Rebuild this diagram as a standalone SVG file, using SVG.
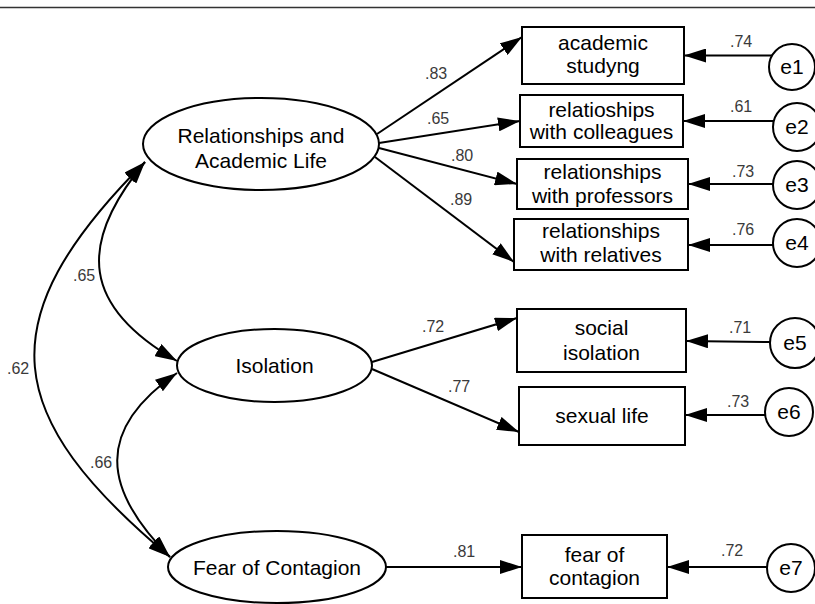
<svg xmlns="http://www.w3.org/2000/svg" width="815" height="604" viewBox="0 0 815 604">
<style>
.n{fill:#fff;stroke:#000;stroke-width:2}
.t{font-family:"Liberation Sans",Arial,sans-serif;font-size:21px;fill:#000;text-anchor:middle}
.c{fill:none;stroke:#000;stroke-width:2}
.l{font-family:"Liberation Sans",Arial,sans-serif;font-size:16px;fill:#3a3a3a}
</style>
<defs>
<marker id="ah" markerUnits="userSpaceOnUse" markerWidth="22" markerHeight="14" viewBox="0 0 22 14" refX="22" refY="7" orient="auto-start-reverse">
<path d="M0,0 L22,7 L0,14 z" fill="#000"/>
</marker>
</defs>
<rect width="815" height="604" fill="#fff"/>
<line x1="0" y1="7.5" x2="815" y2="7.5" stroke="#333" stroke-width="1.5"/>

<g id="connectors">
<path class="c" d="M377,134 L522,37" marker-end="url(#ah)"/>
<path class="c" d="M379,143 L520,121" marker-end="url(#ah)"/>
<path class="c" d="M379,148 L517,184" marker-end="url(#ah)"/>
<path class="c" d="M375,157 L514,262" marker-end="url(#ah)"/>
<path class="c" d="M372,362 L517,318" marker-end="url(#ah)"/>
<path class="c" d="M372,369 L519,432" marker-end="url(#ah)"/>
<path class="c" d="M386,567 L522,567" marker-end="url(#ah)"/>
<path class="c" d="M772,55.5 L684,55.5" marker-end="url(#ah)"/>
<path class="c" d="M774,121 L683,121" marker-end="url(#ah)"/>
<path class="c" d="M773,184 L688,184" marker-end="url(#ah)"/>
<path class="c" d="M773,245 L688,245" marker-end="url(#ah)"/>
<path class="c" d="M770,342 L686,341" marker-end="url(#ah)"/>
<path class="c" d="M765,415 L685,415" marker-end="url(#ah)"/>
<path class="c" d="M767,567 L667,567" marker-end="url(#ah)"/>
<path class="c" d="M145,162 C76,245 83,307 177,361" marker-start="url(#ah)" marker-end="url(#ah)"/>
<path class="c" d="M145,162 C-15,322 3,417 170,557" marker-start="url(#ah)" marker-end="url(#ah)"/>
<path class="c" d="M177,373 C96,429 101,488 170,557" marker-start="url(#ah)" marker-end="url(#ah)"/>
<text class="l" x="425" y="79">.83</text>
<text class="l" x="427" y="124">.65</text>
<text class="l" x="451" y="161">.80</text>
<text class="l" x="450" y="205">.89</text>
<text class="l" x="422" y="332">.72</text>
<text class="l" x="448" y="392">.77</text>
<text class="l" x="453" y="557">.81</text>
<text class="l" x="730" y="47">.74</text>
<text class="l" x="730" y="112">.61</text>
<text class="l" x="732" y="177">.73</text>
<text class="l" x="732" y="235">.76</text>
<text class="l" x="729" y="333">.71</text>
<text class="l" x="727" y="407">.73</text>
<text class="l" x="721" y="556">.72</text>
<text class="l" x="73" y="281">.65</text>
<text class="l" x="7" y="374">.62</text>
<text class="l" x="90" y="468">.66</text>
</g>

<g id="rel">
<ellipse class="n" cx="261" cy="144" rx="118" ry="46"/>
<text class="t" x="261" y="143">Relationships and</text>
<text class="t" x="261" y="168">Academic Life</text>
</g>
<g id="isolation">
<ellipse class="n" cx="274.5" cy="365.5" rx="97.5" ry="36.5"/>
<text class="t" x="274.5" y="373">Isolation</text>
</g>
<g id="fear">
<ellipse class="n" cx="277" cy="567" rx="109" ry="36"/>
<text class="t" x="277" y="575">Fear of Contagion</text>
</g>

<g id="box1">
<rect class="n" x="522" y="27" width="162" height="57"/>
<text class="t" x="603" y="50">academic</text>
<text class="t" x="603" y="73">studyng</text>
</g>
<g id="box2">
<rect class="n" x="520" y="95" width="163" height="52"/>
<text class="t" x="601.5" y="117">relatioships</text>
<text class="t" x="601.5" y="139">with colleagues</text>
</g>
<g id="box3">
<rect class="n" x="517" y="159" width="171" height="50"/>
<text class="t" x="602.5" y="179">relationships</text>
<text class="t" x="602.5" y="203">with professors</text>
</g>
<g id="box4">
<rect class="n" x="514" y="219" width="174" height="51"/>
<text class="t" x="601" y="238">relationships</text>
<text class="t" x="601" y="262">with relatives</text>
</g>
<g id="box5">
<rect class="n" x="517" y="309" width="169" height="63"/>
<text class="t" x="601.5" y="335">social</text>
<text class="t" x="601.5" y="360">isolation</text>
</g>
<g id="box6">
<rect class="n" x="519" y="387" width="166" height="58"/>
<text class="t" x="602" y="423">sexual life</text>
</g>
<g id="box7">
<rect class="n" x="522" y="535" width="145" height="63"/>
<text class="t" x="594.5" y="562">fear of</text>
<text class="t" x="594.5" y="585">contagion</text>
</g>

<g id="e1"><circle class="n" cx="792" cy="67" r="23"/><text class="t" x="792" y="74">e1</text></g>
<g id="e2"><circle class="n" cx="797" cy="127" r="24"/><text class="t" x="797" y="134">e2</text></g>
<g id="e3"><circle class="n" cx="797" cy="185" r="24"/><text class="t" x="797" y="192">e3</text></g>
<g id="e4"><circle class="n" cx="797" cy="243" r="24"/><text class="t" x="797" y="250">e4</text></g>
<g id="e5"><circle class="n" cx="795" cy="343" r="25"/><text class="t" x="795" y="350">e5</text></g>
<g id="e6"><circle class="n" cx="789" cy="412" r="24"/><text class="t" x="789" y="419">e6</text></g>
<g id="e7"><circle class="n" cx="791" cy="568" r="24"/><text class="t" x="791" y="575">e7</text></g>
</svg>
